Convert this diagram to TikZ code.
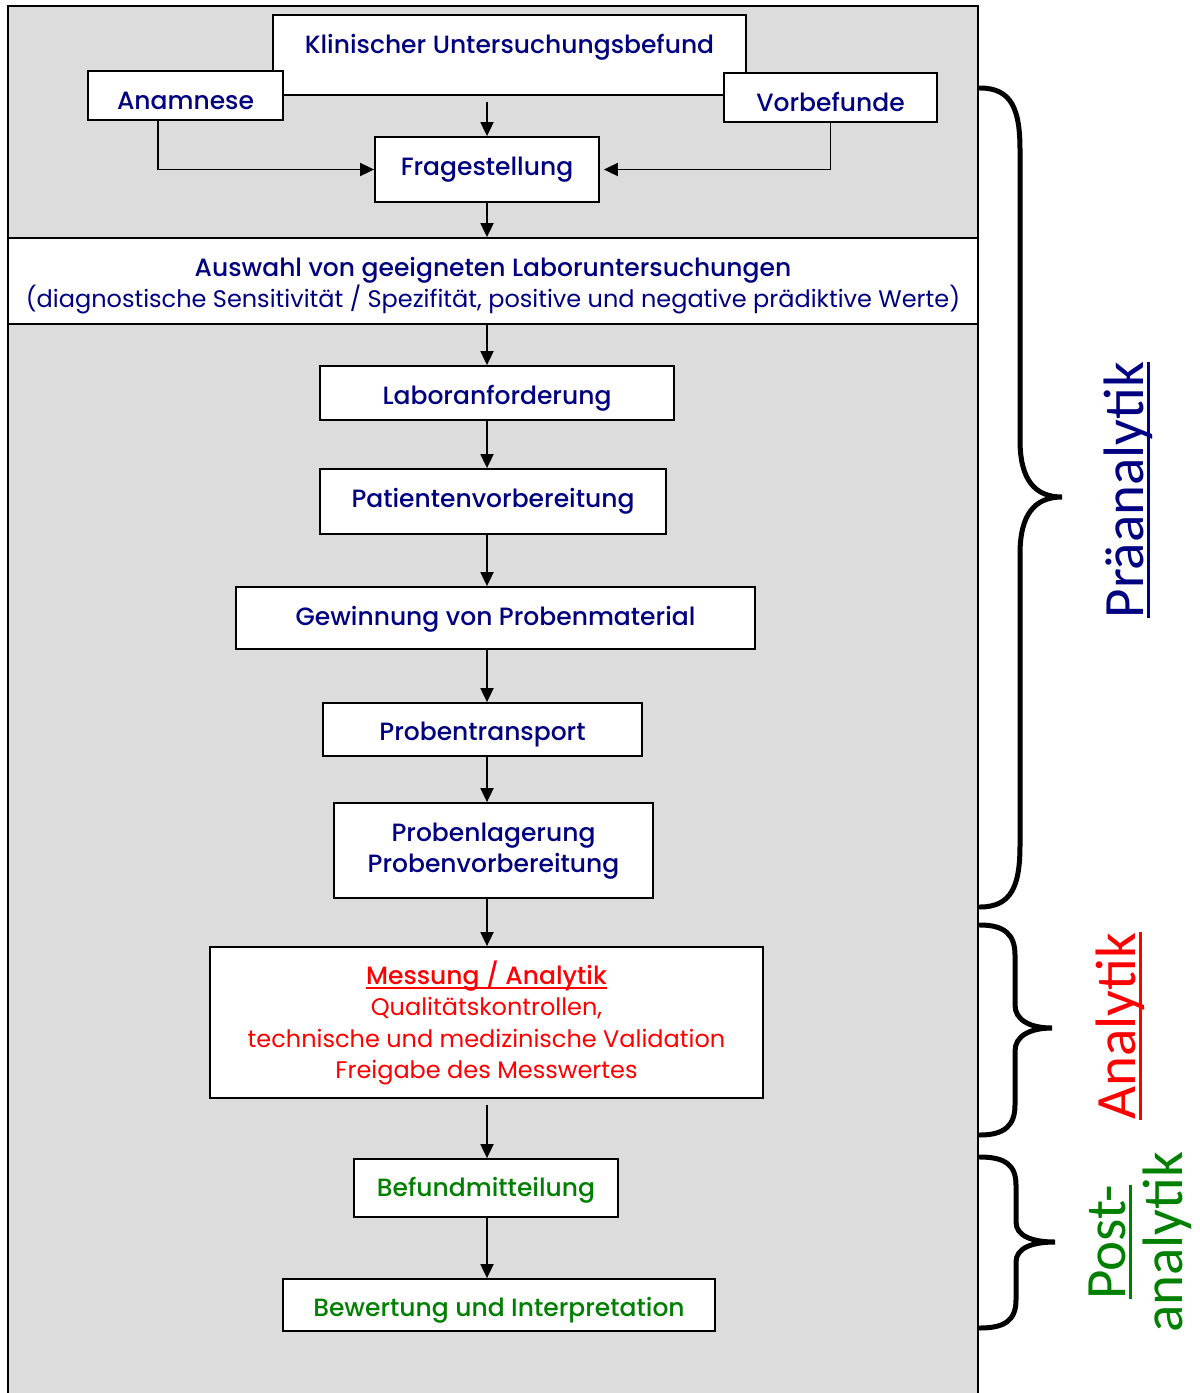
\documentclass[tikz,border=0pt]{standalone}
\usepackage{fontspec}
\setmainfont{Poppins}[BoldFont={Poppins Medium}]
\newfontfamily\sidefont{Carlito}
\usetikzlibrary{arrows.meta}
\usetikzlibrary{positioning}

\definecolor{stepblue}{RGB}{0,0,128}
\definecolor{stepred}{RGB}{255,0,0}
\definecolor{stepgreen}{RGB}{0,128,0}
\definecolor{panelgrey}{RGB}{220,220,220}

% underline with a bar of given depth and thickness
\newcommand{\ulbar}[3]{\setbox0=\hbox{#3}\leavevmode\rlap{\rule[-#1]{\wd0}{#2}}\box0}
\newcommand{\lightline}{\fontsize{24}{31.5}\selectfont\mdseries}
% line of text with its baseline moved down, no height
\newcommand{\atline}[2]{\raisebox{-#1}[0pt][0pt]{#2}}

\begin{document}
\begin{tikzpicture}[x=1pt, y=-1pt]
	\useasboundingbox (0,0) rectangle (1200,1393);
	\fill[panelgrey] (8,6) rectangle (978,1400);
	\draw[line width=1.4pt] (8,1400) -- (8,6) -- (978,6) -- (978,1400);
	\coordinate (spine) at (487,0);

	\begin{scope}[every node/.style={draw=black, fill=white, line width=1.8pt, inner sep=0pt,
	                                 align=center, text=stepblue,
	                                 font=\fontsize{25}{31.5}\selectfont\bfseries}]
		\node[minimum width=473pt, minimum height=80pt] (klin) at (509.5,55) {\atline{-2pt}{Klinischer Untersuchungsbefund}};
		\node[minimum width=195pt, minimum height=49pt] (anam) at (185.5,95.5) {\atline{13.5pt}{Anamnese}};
		\node[minimum width=213pt, minimum height=49pt] (vorb) at (830.5,97.5) {\atline{13.5pt}{Vorbefunde}};
		\node[minimum width=224pt, minimum height=65pt] (frage) at (487,169.5) {\atline{5.5pt}{Fragestellung}};
		\node[minimum width=970pt, minimum height=86pt] (auswahl) at (493,281) {\atline{10.75pt}{Auswahl von geeigneten Laboruntersuchungen}\\
			\lightline\atline{10.75pt}{(diagnostische Sensitivität / Spezifität, positive und negative prädiktive Werte)}};
		\node[minimum width=354pt, minimum height=54pt] (labor) at (497,393) {\atline{11pt}{Laboranforderung}};
		\node[minimum width=346pt, minimum height=65pt] (patient) at (493,501.5) {\atline{5.5pt}{Patientenvorbereitung}};
		\node[minimum width=519pt, minimum height=62pt] (gewinn) at (495.5,618) {\atline{7pt}{Gewinnung von Probenmaterial}};
		\node[minimum width=319pt, minimum height=53pt] (transport) at (482.5,729.5) {\atline{10.5pt}{Probentransport}};
		\node[minimum width=319pt, minimum height=95pt] (lager) at (493.5,850.5) {\atline{6.25pt}{Probenlagerung}\\\atline{6.25pt}{Probenvorbereitung}};
		\node[minimum width=553pt, minimum height=151pt, text=stepred] (messung) at (486.5,1022.5) {\atline{8.75pt}{\ulbar{5pt}{2.5pt}{Messung / Analytik}}\\
			\lightline\atline{8.75pt}{Qualitätskontrollen,}\\
			\lightline\atline{8.75pt}{technische und medizinische Validation}\\
			\lightline\atline{8.75pt}{Freigabe des Messwertes}};
		\node[minimum width=264pt, minimum height=58pt, text=stepgreen] (befund) at (486,1188) {\atline{8pt}{Befundmitteilung}};
		\node[minimum width=432pt, minimum height=52pt, text=stepgreen] (bewert) at (499,1305) {\atline{11pt}{Bewertung und Interpretation}};
	\end{scope}

	\begin{scope}[>={Triangle[length=14pt,width=13pt]}, line width=1.8pt]
		\draw[->] ([yshift=-6pt]spine |- klin.south) -- (spine |- frage.north);
		\draw[->] ([xshift=-27.5pt]anam.south) |- (frage.west);
		\draw[->] (vorb.south) |- ([xshift=4pt]frage.east);
		\draw[->] (spine |- frage.south) -- (spine |- auswahl.north);
		\draw[->] (spine |- auswahl.south) -- (spine |- labor.north);
		\draw[->] (spine |- labor.south) -- (spine |- patient.north);
		\draw[->] (spine |- patient.south) -- (spine |- gewinn.north);
		\draw[->] (spine |- gewinn.south) -- (spine |- transport.north);
		\draw[->] (spine |- transport.south) -- (spine |- lager.north);
		\draw[->] (spine |- lager.south) -- (spine |- messung.north);
		\draw[->] ([yshift=-6pt]spine |- messung.south) -- (spine |- befund.north);
		\draw[->] (spine |- befund.south) -- (spine |- bewert.north);
	\end{scope}

	% braces
	\begin{scope}[line width=5pt, line cap=round]
		\draw (980,88) .. controls (1012,88) and (1020,110) .. (1020,150) -- (1020,440)
			.. controls (1020,480) and (1035,497) .. (1062,497)
			.. controls (1035,497) and (1020,514) .. (1020,554) -- (1020,845)
			.. controls (1020,885) and (1012,907) .. (980,907);
		\draw (980,925) .. controls (1005,925) and (1015,935) .. (1015,955) -- (1015,1005)
			.. controls (1015,1020) and (1030,1028) .. (1052,1028)
			.. controls (1030,1028) and (1015,1036) .. (1015,1051) -- (1015,1105)
			.. controls (1015,1125) and (1005,1135) .. (980,1135);
		\draw (980,1157) .. controls (1005,1157) and (1016,1165) .. (1016,1185) -- (1016,1222)
			.. controls (1016,1236) and (1032,1242) .. (1055,1242)
			.. controls (1032,1242) and (1016,1248) .. (1016,1262) -- (1016,1300)
			.. controls (1016,1320) and (1005,1328) .. (980,1328);
	\end{scope}

	\begin{scope}[every node/.style={rotate=90, align=center, font=\sidefont\fontsize{57}{57}\selectfont}]
		\node[text=stepblue] (prae) at (1128,490) {\ulbar{7pt}{3.5pt}{Präanalytik}};
		\node[text=stepred] (ana) at (1120,1026) {\ulbar{7pt}{3.5pt}{Analytik}};
		\node[text=stepgreen] (post) at (1140,1242) {\ulbar{7pt}{3.5pt}{Post-}\\analytik};
	\end{scope}
\end{tikzpicture}
\end{document}
